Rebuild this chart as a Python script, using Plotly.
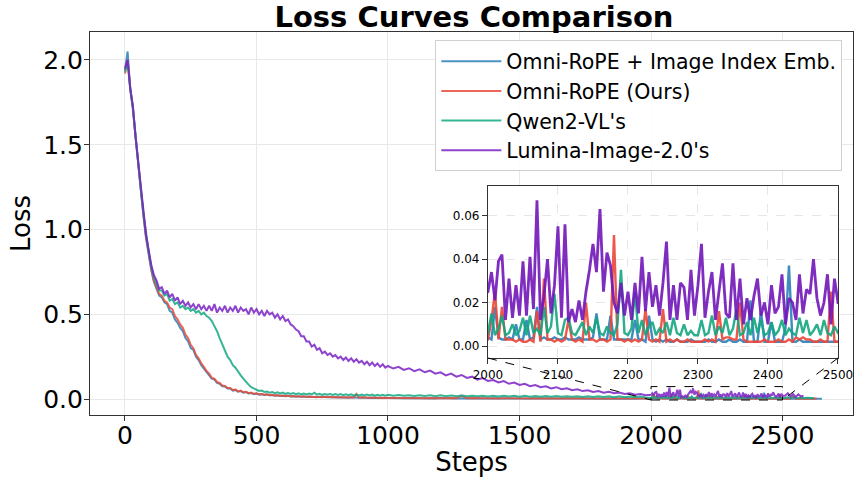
import plotly.graph_objects as go

# ---------------- data ----------------
series_names = ["Omni-RoPE + Image Index Emb.", "Omni-RoPE (Ours)", "Qwen2-VL's", "Lumina-Image-2.0's"]
series_colors = ["rgba(41,128,185,0.85)", "rgba(231,76,60,0.85)", "rgba(19,168,131,0.85)", "rgba(122,34,196,0.85)"]
inset_colors = ["rgba(41,128,185,0.9)", "rgba(236,70,56,0.9)", "rgba(19,165,128,0.9)", "rgba(112,22,184,0.9)"]

steps_main = list(range(0, 1000, 10)) + list(range(1000, 2000, 20))
steps_inset = list(range(2000, 2501, 5))

# steps 0..990 (every 10) then 1000..1980 (every 20)
blue_main = [
    1.94, 2.05, 1.83, 1.71, 1.55, 1.38, 1.23, 1.08, 0.95, 0.85,
    0.76, 0.69, 0.65, 0.61, 0.60, 0.57, 0.56, 0.52, 0.51, 0.47,
    0.45, 0.42, 0.40, 0.36, 0.34, 0.30, 0.29, 0.25, 0.23, 0.20,
    0.18, 0.16, 0.145, 0.12, 0.115, 0.095, 0.09, 0.075, 0.074, 0.062,
    0.062, 0.05, 0.054, 0.043, 0.047, 0.038, 0.041, 0.033, 0.036, 0.029,
    0.032, 0.026, 0.028, 0.024, 0.027, 0.022, 0.024, 0.02, 0.022, 0.018,
    0.02, 0.017, 0.019, 0.015, 0.017, 0.014, 0.016, 0.013, 0.015, 0.012,
    0.014, 0.012, 0.013, 0.011, 0.013, 0.011, 0.012, 0.01, 0.012, 0.01,
    0.011, 0.009, 0.011, 0.009, 0.01, 0.008, 0.01, 0.008, 0.009, 0.008,
    0.009, 0.007, 0.009, 0.007, 0.008, 0.007, 0.008, 0.006, 0.008, 0.006,
    0.007, 0.005, 0.007, 0.005, 0.006, 0.005, 0.006, 0.005, 0.006, 0.004,
    0.006, 0.004, 0.005, 0.004, 0.005, 0.004, 0.005, 0.004, 0.005, 0.004,
    0.005, 0.003, 0.005, 0.003, 0.004, 0.003, 0.004, 0.003, 0.004, 0.003,
    0.004, 0.003, 0.004, 0.003, 0.004, 0.003, 0.004, 0.003, 0.003, 0.002,
    0.003, 0.002, 0.003, 0.002, 0.003, 0.002, 0.003, 0.002, 0.003, 0.002,
]
red_main = [
    1.92, 2.00, 1.84, 1.72, 1.55, 1.39, 1.24, 1.09, 0.96, 0.86,
    0.77, 0.70, 0.66, 0.62, 0.61, 0.58, 0.57, 0.54, 0.53, 0.49,
    0.47, 0.44, 0.42, 0.38, 0.36, 0.32, 0.30, 0.26, 0.24, 0.21,
    0.19, 0.165, 0.15, 0.125, 0.12, 0.10, 0.095, 0.08, 0.078, 0.065,
    0.065, 0.053, 0.056, 0.045, 0.05, 0.04, 0.043, 0.035, 0.038, 0.031,
    0.034, 0.028, 0.03, 0.025, 0.028, 0.023, 0.025, 0.021, 0.023, 0.019,
    0.021, 0.018, 0.02, 0.016, 0.018, 0.015, 0.017, 0.014, 0.016, 0.013,
    0.015, 0.012, 0.014, 0.012, 0.013, 0.011, 0.013, 0.011, 0.012, 0.01,
    0.012, 0.01, 0.011, 0.009, 0.011, 0.009, 0.01, 0.009, 0.03, 0.008,
    0.01, 0.008, 0.009, 0.008, 0.009, 0.007, 0.009, 0.007, 0.008, 0.007,
    0.008, 0.006, 0.007, 0.006, 0.007, 0.006, 0.007, 0.005, 0.007, 0.005,
    0.006, 0.005, 0.006, 0.005, 0.02, 0.005, 0.006, 0.005, 0.006, 0.004,
    0.006, 0.004, 0.005, 0.004, 0.005, 0.004, 0.005, 0.004, 0.005, 0.004,
    0.005, 0.004, 0.005, 0.004, 0.005, 0.003, 0.004, 0.003, 0.004, 0.003,
    0.004, 0.003, 0.004, 0.003, 0.004, 0.003, 0.004, 0.003, 0.004, 0.003,
]
green_main = [
    1.93, 1.99, 1.83, 1.72, 1.56, 1.39, 1.24, 1.10, 0.97, 0.87,
    0.78, 0.72, 0.68, 0.64, 0.64, 0.61, 0.62, 0.58, 0.59, 0.56,
    0.57, 0.54, 0.55, 0.53, 0.54, 0.52, 0.53, 0.51, 0.52, 0.50,
    0.51, 0.49, 0.48, 0.46, 0.43, 0.40, 0.36, 0.32, 0.28, 0.25,
    0.23, 0.20, 0.185, 0.16, 0.14, 0.12, 0.10, 0.085, 0.07, 0.06,
    0.055, 0.048, 0.05, 0.042, 0.045, 0.038, 0.042, 0.035, 0.04, 0.033,
    0.038, 0.031, 0.036, 0.03, 0.035, 0.029, 0.034, 0.028, 0.033, 0.027,
    0.033, 0.027, 0.038, 0.026, 0.031, 0.025, 0.03, 0.025, 0.03, 0.024,
    0.029, 0.024, 0.029, 0.023, 0.028, 0.023, 0.028, 0.022, 0.027, 0.022,
    0.027, 0.021, 0.026, 0.021, 0.026, 0.02, 0.025, 0.02, 0.025, 0.02,
    0.025, 0.019, 0.024, 0.019, 0.023, 0.018, 0.023, 0.018, 0.022, 0.017,
    0.022, 0.017, 0.021, 0.016, 0.021, 0.016, 0.02, 0.016, 0.02, 0.015,
    0.02, 0.015, 0.019, 0.015, 0.019, 0.014, 0.019, 0.014, 0.018, 0.014,
    0.018, 0.013, 0.018, 0.013, 0.017, 0.013, 0.017, 0.012, 0.017, 0.012,
    0.016, 0.012, 0.016, 0.011, 0.016, 0.011, 0.015, 0.011, 0.015, 0.01,
]
purple_main = [
    1.95, 2.00, 1.83, 1.73, 1.55, 1.40, 1.25, 1.10, 0.97, 0.88,
    0.79, 0.73, 0.70, 0.65, 0.66, 0.62, 0.64, 0.60, 0.62, 0.58,
    0.60, 0.56, 0.58, 0.55, 0.57, 0.54, 0.56, 0.53, 0.56, 0.53,
    0.55, 0.52, 0.55, 0.52, 0.56, 0.51, 0.54, 0.52, 0.55, 0.51,
    0.54, 0.52, 0.55, 0.51, 0.54, 0.52, 0.53, 0.50, 0.54, 0.51,
    0.53, 0.50, 0.52, 0.49, 0.52, 0.50, 0.51, 0.48, 0.50, 0.47,
    0.49, 0.46, 0.47, 0.44, 0.43, 0.41, 0.40, 0.37, 0.37, 0.34,
    0.34, 0.31, 0.32, 0.29, 0.30, 0.27, 0.28, 0.26, 0.27, 0.25,
    0.26, 0.24, 0.25, 0.23, 0.245, 0.225, 0.24, 0.22, 0.235, 0.215,
    0.225, 0.205, 0.22, 0.20, 0.215, 0.195, 0.21, 0.19, 0.205, 0.185,
    0.195, 0.18, 0.19, 0.172, 0.182, 0.165, 0.175, 0.158, 0.168, 0.15,
    0.158, 0.14, 0.15, 0.132, 0.142, 0.125, 0.132, 0.115, 0.124, 0.107,
    0.112, 0.098, 0.106, 0.09, 0.097, 0.083, 0.09, 0.076, 0.083, 0.07,
    0.075, 0.063, 0.07, 0.058, 0.063, 0.052, 0.058, 0.047, 0.052, 0.042,
    0.047, 0.037, 0.043, 0.034, 0.038, 0.03, 0.034, 0.026, 0.03, 0.023,
]

# steps 2000..2500 every 5
blue_inset = [
    0.004, 0.003, 0.018, 0.004, 0.003, 0.003, 0.004, 0.003, 0.010, 0.003,
    0.003, 0.012, 0.003, 0.004, 0.018, 0.003, 0.004, 0.003, 0.003, 0.004,
    0.003, 0.003, 0.004, 0.003, 0.003, 0.003, 0.004, 0.003, 0.003, 0.003,
    0.004, 0.015, 0.003, 0.003, 0.003, 0.014, 0.003, 0.003, 0.003, 0.003,
    0.003, 0.003, 0.012, 0.003, 0.003, 0.002, 0.014, 0.003, 0.002, 0.003,
    0.002, 0.003, 0.002, 0.002, 0.003, 0.002, 0.002, 0.002, 0.003, 0.002,
    0.002, 0.002, 0.002, 0.003, 0.002, 0.002, 0.003, 0.002, 0.002, 0.003,
    0.002, 0.002, 0.003, 0.002, 0.002, 0.021, 0.002, 0.002, 0.016, 0.002,
    0.002, 0.011, 0.002, 0.002, 0.002, 0.008, 0.037, 0.002, 0.002, 0.003,
    0.002, 0.002, 0.002, 0.002, 0.002, 0.002, 0.002, 0.002, 0.002, 0.002, 0.002,
]
red_inset = [
    0.003, 0.012, 0.025, 0.003, 0.018, 0.003, 0.003, 0.003, 0.002, 0.003,
    0.002, 0.002, 0.003, 0.002, 0.016, 0.002, 0.031, 0.003, 0.003, 0.002,
    0.003, 0.002, 0.003, 0.012, 0.003, 0.002, 0.003, 0.002, 0.020, 0.003,
    0.003, 0.002, 0.003, 0.003, 0.002, 0.003, 0.051, 0.003, 0.003, 0.002,
    0.003, 0.002, 0.003, 0.002, 0.003, 0.017, 0.003, 0.002, 0.003, 0.002,
    0.017, 0.002, 0.003, 0.002, 0.003, 0.002, 0.002, 0.003, 0.002, 0.002,
    0.002, 0.002, 0.003, 0.002, 0.003, 0.002, 0.016, 0.003, 0.004, 0.004,
    0.003, 0.003, 0.020, 0.003, 0.002, 0.002, 0.002, 0.002, 0.002, 0.003,
    0.002, 0.002, 0.002, 0.003, 0.002, 0.002, 0.003, 0.002, 0.004, 0.003,
    0.004, 0.003, 0.003, 0.002, 0.002, 0.003, 0.002, 0.002, 0.025, 0.002, 0.002,
]
green_inset = [
    0.006, 0.015, 0.005, 0.008, 0.014, 0.005, 0.006, 0.010, 0.005, 0.007,
    0.013, 0.005, 0.014, 0.006, 0.008, 0.005, 0.018, 0.006, 0.009, 0.024,
    0.006, 0.005, 0.012, 0.013, 0.006, 0.005, 0.008, 0.011, 0.005, 0.009,
    0.006, 0.013, 0.006, 0.005, 0.009, 0.006, 0.005, 0.010, 0.035, 0.006,
    0.005, 0.008, 0.025, 0.006, 0.012, 0.005, 0.009, 0.011, 0.005, 0.008,
    0.006, 0.011, 0.005, 0.013, 0.006, 0.005, 0.010, 0.005, 0.007, 0.005,
    0.005, 0.012, 0.005, 0.006, 0.014, 0.005, 0.009, 0.006, 0.013, 0.005,
    0.008, 0.017, 0.005, 0.006, 0.011, 0.005, 0.013, 0.006, 0.012, 0.005,
    0.006, 0.011, 0.005, 0.007, 0.012, 0.005, 0.008, 0.006, 0.005, 0.013,
    0.006, 0.012, 0.005, 0.007, 0.010, 0.005, 0.012, 0.006, 0.005, 0.009, 0.006,
]
purple_inset = [
    0.025, 0.034, 0.021, 0.039, 0.042, 0.012, 0.031, 0.013, 0.028, 0.014,
    0.039, 0.014, 0.041, 0.017, 0.067, 0.012, 0.023, 0.040, 0.015, 0.028,
    0.055, 0.013, 0.056, 0.011, 0.017, 0.011, 0.021, 0.012, 0.025, 0.035,
    0.047, 0.034, 0.063, 0.025, 0.043, 0.037, 0.020, 0.015, 0.029, 0.014,
    0.025, 0.012, 0.029, 0.015, 0.041, 0.016, 0.034, 0.018, 0.028, 0.014,
    0.029, 0.048, 0.012, 0.028, 0.012, 0.029, 0.027, 0.012, 0.035, 0.014,
    0.028, 0.047, 0.013, 0.025, 0.034, 0.012, 0.024, 0.038, 0.015, 0.013,
    0.038, 0.012, 0.031, 0.010, 0.022, 0.012, 0.023, 0.031, 0.014, 0.020,
    0.010, 0.028, 0.015, 0.018, 0.033, 0.010, 0.022, 0.020, 0.012, 0.033,
    0.015, 0.026, 0.024, 0.040, 0.022, 0.014, 0.020, 0.033, 0.010, 0.031, 0.020,
]

# tails after step 2500, every 10 steps starting at 2510
blue_tail = [0.002, 0.002, 0.003, 0.002, 0.002, 0.003, 0.002, 0.002, 0.002, 0.003, 0.002, 0.002, 0.002, 0.002, 0.002]
red_tail = [0.002, 0.003, 0.002, 0.015, 0.002, 0.003, 0.002, 0.002, 0.003, 0.002, 0.002, 0.003, 0.002]
green_tail = [0.006, 0.010, 0.005, 0.012, 0.006, 0.005, 0.009, 0.005, 0.008, 0.005, 0.006, 0.005]
purple_tail = [0.020, 0.035, 0.015, 0.030, 0.012, 0.028, 0.015, 0.020]

main_vals = [blue_main, red_main, green_main, purple_main]
inset_vals = [blue_inset, red_inset, green_inset, purple_inset]
tail_vals = [blue_tail, red_tail, green_tail, purple_tail]

x_ticks = [0, 500, 1000, 1500, 2000, 2500]
y_ticks = [0.0, 0.5, 1.0, 1.5, 2.0]
inset_x_ticks = [2000, 2100, 2200, 2300, 2400, 2500]
inset_y_ticks = [0.00, 0.02, 0.04, 0.06]

# ---------------- figure ----------------
X_RANGE = [-133, 2768]
Y_RANGE = [-0.094, 2.165]
IX_RANGE = [2000, 2500]
IY_RANGE = [-0.0055, 0.0736]
INSET_DX = [0.5216, 0.9803]
INSET_DY = [0.1488, 0.598]
FONT = "DejaVu Sans"

fig = go.Figure()
for i, (name, col, mv, iv, tv) in enumerate(zip(series_names, series_colors, main_vals, inset_vals, tail_vals)):
    tail_steps = list(range(2510, 2510 + 10 * len(tv), 10))
    xs = steps_main + steps_inset + tail_steps
    ys = mv + iv + tv
    fig.add_trace(go.Scatter(x=xs, y=ys, mode="lines", name=name, legendgroup=f"g{i}",
                             line=dict(color=col, width=2.0), xaxis="x", yaxis="y"))
for i, (name, col, mv, iv, tv) in enumerate(zip(series_names, inset_colors, main_vals, inset_vals, tail_vals)):
    tail_steps = list(range(2510, 2510 + 10 * len(tv), 10))
    xs = steps_main + steps_inset + tail_steps
    ys = mv + iv + tv
    fig.add_trace(go.Scatter(x=xs, y=ys, mode="lines", name=name, showlegend=False,
                             legendgroup=f"g{i}",
                             line=dict(color=col, width=2.8 if i == 3 else 2.4),
                             xaxis="x2", yaxis="y2"))

axis_common = dict(showline=True, linecolor="#333333", linewidth=1.2, mirror=True,
                   ticks="outside", ticklen=5, tickcolor="#333333", zeroline=False,
                   automargin=False)

fig.update_layout(
    width=854, height=477,
    margin=dict(l=90, r=1, t=32, b=62, autoexpand=False),
    paper_bgcolor="white", plot_bgcolor="white",
    font=dict(family=FONT, color="black"),
    title=dict(text="<b>Loss Curves Comparison</b>", x=0.555, xanchor="center",
               y=1 - 17 / 477, yanchor="middle", yref="container",
               font=dict(size=29, family=FONT, color="black")),
    xaxis=dict(range=X_RANGE, tickvals=x_ticks, ticktext=[str(v) for v in x_ticks],
               tickfont=dict(size=25), showgrid=True, gridcolor="#e8e8e8", gridwidth=1,
               ticklabelstandoff=-7,
               title=dict(text="Steps", font=dict(size=26), standoff=2), **axis_common),
    yaxis=dict(range=Y_RANGE, tickvals=y_ticks, ticktext=[f"{v:.1f}" for v in y_ticks],
               tickfont=dict(size=25), showgrid=True, gridcolor="#e8e8e8", gridwidth=1,
               ticklabelstandoff=-4,
               title=dict(text="Loss", font=dict(size=26), standoff=5), **axis_common),
    xaxis2=dict(domain=INSET_DX, anchor="y2", range=IX_RANGE, tickvals=inset_x_ticks,
                ticktext=[str(v) for v in inset_x_ticks], tickfont=dict(size=12),
                showgrid=True, gridcolor="#e6e6e6", griddash="dash", **axis_common),
    yaxis2=dict(domain=INSET_DY, anchor="x2", range=IY_RANGE, tickvals=inset_y_ticks,
                ticktext=[f"{v:.2f}" for v in inset_y_ticks], tickfont=dict(size=12),
                showgrid=True, gridcolor="#e6e6e6", griddash="dash", **axis_common),
    legend=dict(x=0.986, xanchor="right", y=0.978, yanchor="top",
                bgcolor="rgba(255,255,255,0.9)", bordercolor="#d0d0d0", borderwidth=1,
                font=dict(size=20.5, family=FONT), tracegroupgap=0, itemwidth=60),
    showlegend=True,
)

# inset background
fig.add_shape(type="rect", xref="paper", yref="paper",
              x0=INSET_DX[0], x1=INSET_DX[1], y0=INSET_DY[0], y1=INSET_DY[1],
              fillcolor="white", line=dict(width=0), layer="below")

# zoom rectangle on the main axes
fig.add_shape(type="rect", xref="x", yref="y", x0=IX_RANGE[0], x1=IX_RANGE[1],
              y0=IY_RANGE[0], y1=IY_RANGE[1], line=dict(color="black", width=1, dash="dash"))

# connectors: inset bottom corners -> rectangle bottom corners (in main data coords)
def paper_to_data_x(p):
    return X_RANGE[0] + p * (X_RANGE[1] - X_RANGE[0])

def paper_to_data_y(p):
    return Y_RANGE[0] + p * (Y_RANGE[1] - Y_RANGE[0])

for px, dx in [(INSET_DX[0], IX_RANGE[0]), (INSET_DX[1], IX_RANGE[1])]:
    fig.add_shape(type="line", xref="x", yref="y",
                  x0=paper_to_data_x(px), y0=paper_to_data_y(INSET_DY[0]),
                  x1=dx, y1=IY_RANGE[0], line=dict(color="black", width=1, dash="dash"))

fig.write_html("out.html", config={"displayModeBar": False},
               post_script="document.body.style.margin='0';document.body.style.overflow='hidden';")
